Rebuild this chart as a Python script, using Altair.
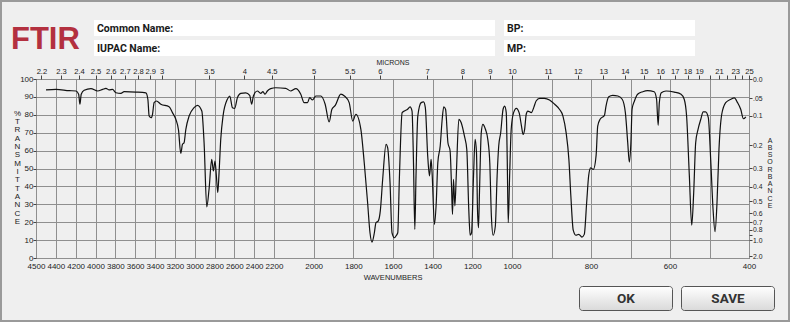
import altair as alt
import pandas as pd

# ---------------- data ----------------
wavenumber = [4499, 4399, 4265, 4197, 4170, 4157, 4144, 4114, 4046, 3979, 3928, 3895, 3862, 3828,
              3794, 3744, 3711, 3593, 3492, 3472, 3459, 3439, 3425, 3409, 3385, 3341, 3258, 3224,
              3190, 3163, 3140, 3123, 3107, 3089, 3056, 3006, 2972, 2928, 2905, 2878, 2855, 2828,
              2811, 2795, 2781, 2767, 2754, 2737, 2714, 2670, 2646, 2619, 2596, 2569, 2536, 2485,
              2445, 2425, 2408, 2368, 2334, 2311, 2291, 2267, 2233, 2191, 2141, 2116, 2090, 2065,
              2048, 2031, 2020, 2006, 1989, 1964, 1942, 1922, 1908, 1891, 1863, 1845, 1821, 1803,
              1787, 1762, 1745, 1728, 1716, 1706, 1694, 1686, 1674, 1664, 1652, 1635, 1627, 1615,
              1605, 1593, 1585, 1576, 1568, 1554, 1543, 1526, 1514, 1504, 1497, 1490, 1484, 1475,
              1458, 1446, 1437, 1425, 1416, 1408, 1403, 1391, 1382, 1374, 1362, 1352, 1344, 1335,
              1323, 1312, 1305, 1300, 1295, 1288, 1281, 1268, 1256, 1240, 1228, 1218, 1211, 1204,
              1194, 1186, 1179, 1174, 1169, 1164, 1155, 1147, 1134, 1122, 1112, 1104, 1095, 1084,
              1075, 1067, 1057, 1045, 1037, 1029, 1024, 1019, 1012, 1004, 996, 989, 982, 976, 972,
              968, 964, 960, 951, 945, 939, 930, 918, 905, 892, 880, 871, 863, 856, 851, 845, 838,
              831, 823, 817, 811, 806, 801, 794, 787, 783, 777, 766, 762, 755, 745, 732, 721, 713,
              707, 703, 699, 696, 690, 682, 669, 657, 640, 634, 630, 627, 622, 610, 589, 572, 564,
              558, 551, 545, 540, 535, 529, 522, 516, 510, 503, 497, 491, 486, 481, 476, 469, 459,
              446, 437, 429, 421, 414, 408]
transmittance = [93.9, 94.2, 93.5, 93.3, 91.5, 85.9, 91.5, 93.7, 94.6, 93.3, 94.2, 94.8, 93.9, 94.2,
                 92.3, 92.0, 92.9, 92.7, 92.3, 88.7, 79.3, 78.4, 80.3, 86.8, 87.7, 85.9, 84.5, 81.2,
                 77.5, 71.5, 58.4, 63.5, 64.4, 71.9, 79.3, 84.0, 85.3, 82.1, 64.4, 28.5, 38.4, 55.1,
                 48.6, 54.2, 45.8, 36.5, 47.7, 66.3, 79.3, 88.7, 90.5, 84.0, 83.6, 89.6, 92.0, 92.3,
                 90.9, 85.9, 90.5, 93.3, 92.0, 92.9, 91.5, 93.3, 94.6, 95.1, 94.8, 93.3, 94.6, 91.5,
                 86.8, 86.8, 89.6, 88.3, 90.5, 90.5, 85.9, 76.0, 83.1, 85.3, 91.5, 90.5, 86.8, 76.5,
                 80.3, 71.9, 53.2, 30.9, 14.1, 8.9, 14.1, 19.7, 20.7, 26.3, 44.0, 63.5, 61.6, 42.1,
                 14.1, 11.3, 12.3, 14.1, 44.0, 81.2, 82.1, 83.1, 84.4, 82.1, 55.1, 16.0, 45.8, 79.3,
                 86.8, 87.2, 84.0, 57.0, 45.8, 55.1, 47.7, 18.8, 30.9, 53.2, 62.6, 77.5, 84.5, 83.1,
                 64.4, 59.8, 40.2, 24.4, 44.0, 29.1, 46.0, 77.5, 75.6, 68.2, 60.7, 27.2, 12.7, 14.1,
                 45.8, 66.3, 58.8, 27.2, 16.9, 36.5, 70.0, 74.7, 71.9, 66.3, 53.2, 23.5, 12.7, 17.9,
                 45.8, 62.6, 70.0, 83.1, 84.9, 81.2, 55.1, 19.7, 45.8, 71.9, 81.2, 83.6, 81.2, 73.7, 69.1,
                 71.9, 80.3, 82.1, 81.2, 84.0, 87.7, 89.2, 89.2, 88.3, 85.9, 83.1, 79.3, 70.0, 55.1, 34.6, 15.6, 12.7,
                 13.2, 11.7, 13.2, 30.9, 45.8, 50.4, 49.5, 57.5, 73.7, 77.5, 79.7, 84.9, 90.1, 90.9, 90.5, 88.7, 81.2,
                 64.4, 53.6, 64.4, 83.1, 87.7, 91.5, 92.9, 93.5, 92.9, 88.7, 74.1, 86.8, 92.3, 93.3, 92.7, 91.5, 88.7,
                 79.3, 45.8, 18.3, 36.5, 64.4, 71.9, 77.5, 81.6, 81.6, 78.4, 55.1, 27.2, 14.7, 30.9, 60.7, 80.3, 86.8,
                 88.7, 89.4, 86.8, 83.1, 77.8, 78.9]

wavenumber_ticks = [4600, 4400, 4200, 4000, 3800, 3600, 3400, 3200, 3000, 2800, 2600, 2400, 2200,
                    2000, 1800, 1600, 1400, 1200, 1000, 900, 800, 700, 600, 500, 400]
micron_ticks = [2.2, 2.3, 2.4, 2.5, 2.6, 2.7, 2.8, 2.9, 3, 3.5, 4, 4.5, 5, 5.5, 6, 7, 8, 9, 10,
                11, 12, 13, 14, 15, 16, 17, 18, 19, 20, 21, 22, 23, 24, 25]
transmittance_ticks = [0, 10, 20, 30, 40, 50, 60, 70, 80, 90, 100]
absorbance_ticks = [0.0, 0.05, 0.1, 0.2, 0.3, 0.4, 0.5, 0.6, 0.7, 0.8, 0.9, 1.0, 2.0]

header_fields = ["Common Name:", "IUPAC Name:", "BP:", "MP:"]
button_labels = ["OK", "SAVE"]
title_text = "FTIR"

df = pd.DataFrame({"wavenumber": wavenumber, "transmittance": transmittance})

# ---------------- layout ----------------
PL, PT, W, H = 36, 79, 713, 179
FONT = "Liberation Sans"
UIFONT = "Roboto, Liberation Sans"
ONE = alt.Data(values=[{"_": 0}])


def rect_layer(x0, y0, x1, y1, **kw):
    return alt.Chart(ONE).mark_rect(**kw).encode(
        x=alt.value(x0 - PL), x2=alt.value(x1 - PL),
        y=alt.value(y0 - PT), y2=alt.value(y1 - PT))


def text_layer(s, x, y, **kw):
    return alt.Chart(alt.Data(values=[{"t": s}])).mark_text(**kw).encode(
        text="t:N", x=alt.value(x - PL), y=alt.value(y - PT))


x_scale = alt.Scale(domain=[4600, 2200, 1000, 400], range=[0, 238, 476, 713], nice=False, zero=False)
y_scale = alt.Scale(domain=[0, 100], nice=False, zero=False)

bottom_axis = alt.Axis(
    orient="bottom", values=wavenumber_ticks, format="d",
    labelExpr="datum.value == 4600 ? '4500' : (datum.value == 900 || datum.value == 700 || datum.value == 500) ? '' : datum.label",
    grid=True, ticks=False, domain=False, labelOverlap=False, labelFlush=False,
    labelPadding=4, labelFontSize=8,
    title="WAVENUMBERS", titleFontSize=7.5, titleFontWeight="normal",
    titleX=W / 2, titleY=19, titleBaseline="middle")

left_axis = alt.Axis(
    orient="left", values=transmittance_ticks, grid=True, tickSize=3, domain=False,
    labelPadding=0, labelFontSize=8, labelOverlap=False,
    title=["%", "", "T", "R", "A", "N", "S", "M", "I", "T", "T", "A", "N", "C", "E"],
    titleAngle=0, titleX=-19, titleY=109 - PT, titleBaseline="top", titleAlign="center",
    titleLineHeight=8.35, titleFontSize=8, titleFontWeight="normal")

top_axis = alt.Axis(
    orient="top", values=[10000 / m for m in micron_ticks], grid=False, tickSize=4, domain=False,
    labelExpr="indexof([20,22,24], round(10000/datum.value)) >= 0 ? '' : '' + round(100000/datum.value)/10",
    labelOverlap=False, labelFlush=False, labelPadding=0, labelFontSize=7.6,
    title="MICRONS", titleFontSize=7, titleFontWeight="normal",
    titleX=W / 2, titleY=-16.5, titleBaseline="middle")

right_axis = alt.Axis(
    orient="right", values=[round(100 * 10 ** (-a), 3) for a in absorbance_ticks],
    grid=False, tickSize=3, domain=False, labelOverlap=False, labelPadding=0.5, labelFontSize=6.8,
    labelExpr="datum.value > 99 ? '0.0' : (datum.value > 89 && datum.value < 90) ? '.05' : (datum.value > 12 && datum.value < 13) ? '' : format(-log(datum.value/100)/LN10, '.1f')",
    title=["A", "B", "S", "O", "R", "B", "A", "N", "C", "E"],
    titleAngle=0, titleX=20.5, titleY=136 - PT, titleBaseline="top", titleAlign="center",
    titleLineHeight=7.25, titleFontSize=7, titleFontWeight="normal")

spectrum = alt.Chart(df).mark_line(color="#111111", strokeWidth=1.2, interpolate="monotone").encode(
    x=alt.X("wavenumber:Q", scale=x_scale, axis=bottom_axis),
    y=alt.Y("transmittance:Q", scale=y_scale, axis=left_axis),
)

overlay = alt.Chart(df).mark_line(opacity=0).encode(
    x=alt.X("wavenumber:Q", scale=x_scale, axis=top_axis),
    y=alt.Y("transmittance:Q", scale=y_scale, axis=right_axis),
)

button_fill = alt.LinearGradient(
    gradient="linear", x1=0, x2=0, y1=0, y2=1,
    stops=[alt.GradientStop(color="#ffffff", offset=0), alt.GradientStop(color="#d9d9d9", offset=1)])

ui = [
    rect_layer(1, 1, 789, 321, fillOpacity=0, stroke="#9a9a9a", strokeWidth=2),
    rect_layer(94, 20, 495, 36, fill="#ffffff"),
    rect_layer(94, 40, 495, 56, fill="#ffffff"),
    rect_layer(504, 20, 695, 36, fill="#ffffff"),
    rect_layer(504, 40, 695, 56, fill="#ffffff"),
    text_layer(title_text, 11, 49, font=FONT, fontSize=31, fontWeight="bold", color="#b3303f", align="left", baseline="alphabetic"),
    text_layer(header_fields[0], 97, 28.5, font=UIFONT, fontSize=10.5, fontWeight="bold", color="#1a1a1a", align="left", baseline="middle"),
    text_layer(header_fields[1], 97, 48.5, font=UIFONT, fontSize=10.5, fontWeight="bold", color="#1a1a1a", align="left", baseline="middle"),
    text_layer(header_fields[2], 507, 28.5, font=UIFONT, fontSize=10.5, fontWeight="bold", color="#1a1a1a", align="left", baseline="middle"),
    text_layer(header_fields[3], 507, 48.5, font=UIFONT, fontSize=10.5, fontWeight="bold", color="#1a1a1a", align="left", baseline="middle"),
    rect_layer(579.5, 286.5, 672.5, 310.5, fill=button_fill, stroke="#555555", strokeWidth=1, cornerRadius=3),
    rect_layer(681.5, 286.5, 774.5, 310.5, fill=button_fill, stroke="#555555", strokeWidth=1, cornerRadius=3),
    text_layer(button_labels[0], 626, 299, font=UIFONT, fontSize=13.5, fontWeight="bold", color="#333333", align="center", baseline="middle"),
    text_layer(button_labels[1], 728, 299, font=UIFONT, fontSize=13.5, fontWeight="bold", color="#333333", align="center", baseline="middle"),
]

chart = alt.layer(spectrum, overlay, *ui).resolve_scale(x="independent", y="independent").properties(
    width=W, height=H,
    autosize=alt.AutoSizeParams(type="none"),
    padding={"left": PL, "top": PT, "right": 790 - PL - W, "bottom": 322 - PT - H},
    background="#efefef",
).configure_view(stroke="#555555", strokeWidth=1).configure_axis(
    labelFont=FONT, titleFont=FONT, labelColor="#222222", titleColor="#222222",
    gridColor="#8f8f8f", gridWidth=1, gridOpacity=1, tickColor="#444444",
)

chart.save("out.html", embed_options={"renderer": "svg", "actions": False})
